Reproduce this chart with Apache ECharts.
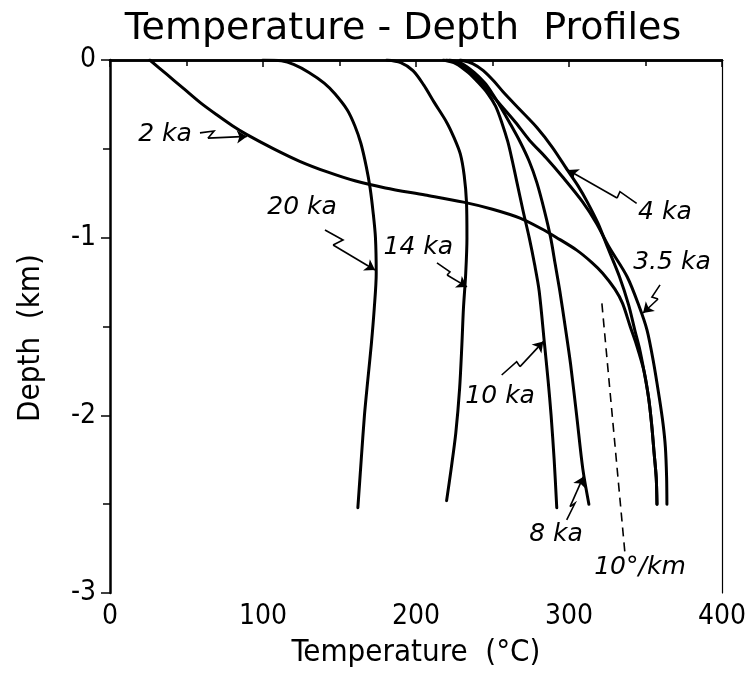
<!DOCTYPE html>
<html><head><meta charset="utf-8">
<script src="https://cdn.jsdelivr.net/npm/echarts@6/dist/echarts.min.js"></script>
<style>html,body{margin:0;padding:0;background:#fff}#c{width:750px;height:699px}</style>
</head><body><div id="c"></div>
<script>
const FONT = "'DejaVu Sans Condensed','Liberation Sans Narrow','DejaVu Sans',sans-serif";
const FONT_WIDE = "'DejaVu Sans',sans-serif";
const xTicks = [0, 100, 200, 300, 400];
const yTicks = [0, -1, -2, -3];

// Temperature (°C) and depth (km) for each profile
const temp2ka  = [26, 37, 48, 59, 70, 80, 89.5, 107, 124, 142, 160, 180, 206, 231, 250, 268, 282, 292, 305, 315, 322, 330, 335, 340, 344, 349, 352, 354, 355.5, 357, 357.5];
const depth2ka = [0, -0.08, -0.16, -0.24, -0.31, -0.37, -0.42, -0.50, -0.57, -0.63, -0.68, -0.72, -0.76, -0.80, -0.84, -0.89, -0.95, -1.0, -1.07, -1.14, -1.20, -1.29, -1.37, -1.50, -1.60, -1.75, -1.90, -2.05, -2.20, -2.35, -2.50];

const temp20ka  = [100, 112, 120, 130, 140, 147, 155, 160, 164, 167.5, 170, 172, 173.5, 174, 172.7, 170.8, 168.5, 166.3, 164.2, 162];
const depth20ka = [0, -0.005, -0.025, -0.07, -0.13, -0.19, -0.28, -0.37, -0.47, -0.60, -0.72, -0.86, -1.0, -1.2, -1.4, -1.6, -1.8, -2.0, -2.25, -2.52];

const temp14ka  = [181, 190, 198, 205, 212, 220, 225, 229, 231.5, 233, 233.3, 232.5, 231, 230, 228.5, 226, 223, 220];
const depth14ka = [0, -0.015, -0.06, -0.14, -0.24, -0.35, -0.44, -0.53, -0.65, -0.80, -1.0, -1.2, -1.4, -1.6, -1.85, -2.1, -2.3, -2.48];

const temp10ka  = [218, 226, 234, 241, 247, 252, 256, 260, 263, 266, 270, 274, 277.5, 280.5, 284, 286.3, 288.3, 290.3, 292];
const depth10ka = [0, -0.02, -0.07, -0.13, -0.19, -0.26, -0.35, -0.46, -0.57, -0.69, -0.85, -1.0, -1.15, -1.3, -1.6, -1.8, -2.0, -2.25, -2.52];

const temp8ka  = [222, 230, 238, 245, 250, 255, 261, 268, 274, 279, 284, 288, 291, 294, 297.5, 301, 305, 309, 313];
const depth8ka = [0, -0.02, -0.07, -0.13, -0.19, -0.26, -0.35, -0.46, -0.57, -0.69, -0.85, -1.0, -1.15, -1.3, -1.5, -1.71, -2.0, -2.3, -2.5];

const temp35ka  = [220, 228, 236, 243, 249, 256, 265, 274, 285, 296, 309, 318, 326, 338, 346, 351, 355, 359, 361.5, 363, 363.8, 364];
const depth35ka = [0, -0.02, -0.07, -0.13, -0.19, -0.26, -0.35, -0.45, -0.55, -0.66, -0.80, -0.92, -1.05, -1.22, -1.39, -1.52, -1.69, -1.90, -2.05, -2.18, -2.35, -2.50];

const temp4ka  = [229, 237, 244, 251, 257, 268, 279, 289, 299, 306, 312, 319, 325, 333, 339, 343, 346, 349, 352, 354, 355.5, 357, 357.5];
const depth4ka = [0, -0.02, -0.06, -0.12, -0.18, -0.28, -0.38, -0.49, -0.62, -0.71, -0.80, -0.92, -1.05, -1.22, -1.38, -1.52, -1.62, -1.75, -1.90, -2.05, -2.20, -2.35, -2.50];

// 10 °C/km reference gradient (dashed)
const tempGrad  = [321.5, 336.5];
const depthGrad = [-1.37, -2.77];

// Curve labels (positions in data units)
const labelText  = ['2 ka', '20 ka', '14 ka', '10 ka', '8 ka', '4 ka', '3.5 ka', '10°/km'];
const labelTemp  = [36, 125.5, 201.5, 255, 291.5, 362.7, 367.3, 346.4];
const labelDepth = [-0.422, -0.833, -1.058, -1.896, -2.673, -0.861, -1.137, -2.859];

// Leader arrows: squiggle paths (temp, depth) ending at arrow tip
const arrowPaths = [
  [[58.8, -0.41], [68, -0.40], [64, -0.44], [89.5, -0.43]],
  [[140.5, -0.957], [152.3, -1.013], [145.8, -1.041], [173.2, -1.182]],
  [[213.7, -1.142], [222.2, -1.193], [220.3, -1.210], [233.3, -1.277]],
  [[256.0, -1.773], [265.8, -1.698], [268.0, -1.726], [283.2, -1.585]],
  [[298.5, -2.589], [303.9, -2.495], [300.7, -2.514], [309.4, -2.345]],
  [[344.2, -0.807], [333.3, -0.741], [331.4, -0.777], [299.3, -0.619]],
  [[359.5, -1.266], [354.2, -1.334], [358.2, -1.345], [348.4, -1.424]]
];

function pairs(t, z) { return t.map((v, i) => [v, z[i]]); }

const curves = [
  ['2 ka', temp2ka, depth2ka], ['20 ka', temp20ka, depth20ka], ['14 ka', temp14ka, depth14ka],
  ['10 ka', temp10ka, depth10ka], ['8 ka', temp8ka, depth8ka], ['3.5 ka', temp35ka, depth35ka],
  ['4 ka', temp4ka, depth4ka]
];

const series = curves.map(c => ({
  name: c[0], type: 'line', data: pairs(c[1], c[2]), showSymbol: false,
  smooth: 0.3,
  lineStyle: { color: '#000', width: 3, cap: 'round', join: 'round' }, silent: true, z: 3
}));

series.push({
  name: 'gradient', type: 'line', data: pairs(tempGrad, depthGrad), showSymbol: false,
  lineStyle: { color: '#000', width: 1.6, type: [9, 6] }, silent: true
});

series.push({
  type: 'lines', coordinateSystem: 'cartesian2d', polyline: true, silent: true,
  data: arrowPaths.map(p => ({ coords: p.slice(0, 3) })),
  lineStyle: { color: '#000', width: 1.6, opacity: 1 }
});
series.push({
  type: 'lines', coordinateSystem: 'cartesian2d', silent: true,
  symbol: ['none', 'arrow'], symbolSize: 10,
  data: arrowPaths.map(p => ({ coords: [p[2], p[3]] })),
  lineStyle: { color: '#000', width: 1.6, opacity: 1 }
});

series.push({
  type: 'scatter', symbolSize: 0, silent: true,
  itemStyle: { color: '#000', opacity: 1 },
  data: labelText.map((s, i) => [labelTemp[i], labelDepth[i], s]),
  label: {
    show: true, position: 'inside', formatter: p => p.data[2], opacity: 1,
    color: '#000', textBorderWidth: 0, fontSize: 25, fontStyle: 'italic', fontFamily: FONT_WIDE
  }
});

const chart = echarts.init(document.getElementById('c'), null, { renderer: 'canvas' });
chart.setOption({
  animation: false,
  backgroundColor: '#fff',
  grid: { left: 110, right: 28, top: 60, bottom: 106 },
  graphic: [{
    type: 'text', x: 403, y: 29,
    style: { text: 'Temperature - Depth  Profiles', textAlign: 'center', textVerticalAlign: 'middle',
      fontSize: 38, fontFamily: FONT_WIDE, fill: '#000' }
  }, {
    type: 'text', x: 31, y: 338, rotation: Math.PI / 2,
    style: { text: 'Depth  (km)', textAlign: 'center', textVerticalAlign: 'middle',
      fontSize: 31, fontFamily: FONT, fill: '#000' }
  }],
  xAxis: [{
    type: 'value', min: xTicks[0], max: xTicks[xTicks.length - 1], interval: xTicks[1] - xTicks[0],
    name: 'Temperature  (°C)', nameLocation: 'middle', nameGap: 44,
    nameTextStyle: { fontSize: 31, fontFamily: FONT, color: '#000' },
    axisLine: { lineStyle: { color: '#000', width: 2.5 } },
    axisTick: { show: true, inside: false, length: 7, lineStyle: { color: '#000', width: 1.5 } },
    minorTick: { show: true, splitNumber: 2, length: 6, lineStyle: { color: '#000', width: 1.5 } },
    axisLabel: { fontSize: 28, fontFamily: FONT, color: '#000', margin: 10 },
    splitLine: { show: false }
  }, {
    type: 'value', position: 'top', min: 0, max: 400,
    axisLine: { onZero: false, lineStyle: { color: '#000', width: 2.5 } },
    axisTick: { show: false }, axisLabel: { show: false }, splitLine: { show: false }
  }],
  yAxis: [{
    type: 'value', min: yTicks[yTicks.length - 1], max: yTicks[0], interval: 1,
    axisLine: { onZero: false, lineStyle: { color: '#000', width: 2.5 } },
    axisTick: { show: true, inside: false, length: 9, lineStyle: { color: '#000', width: 1.5 } },
    minorTick: { show: true, splitNumber: 2, length: 7, lineStyle: { color: '#000', width: 1.5 } },
    axisLabel: { fontSize: 28, fontFamily: FONT, color: '#000', margin: 14 },
    splitLine: { show: false }
  }, {
    type: 'value', position: 'right', min: -3, max: 0,
    axisLine: { show: true, onZero: false, lineStyle: { color: '#000', width: 1.2 } },
    axisTick: { show: false }, axisLabel: { show: false }, splitLine: { show: false }
  }],
  series: series
});
</script></body></html>
